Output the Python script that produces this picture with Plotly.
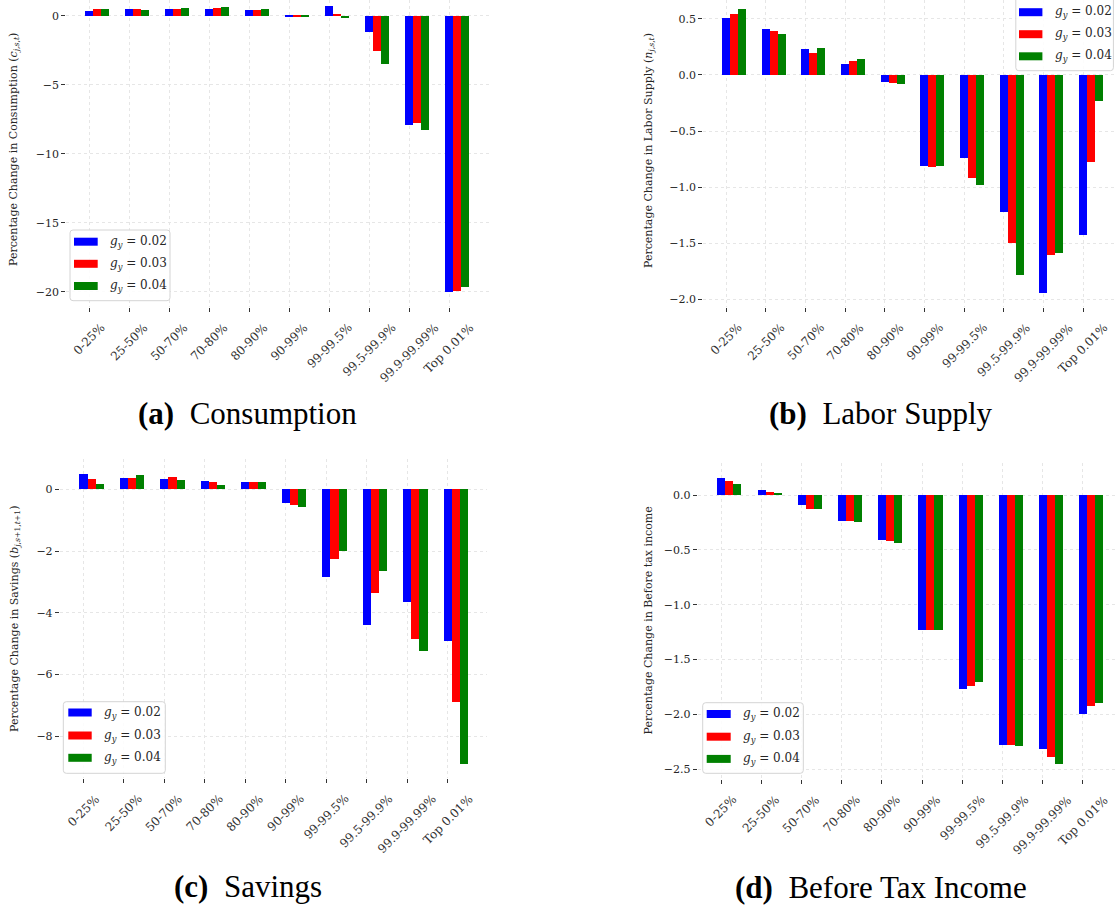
import plotly.graph_objects as go

W, H = 1117, 907

# Income groups on the x axis
groups = ["0-25%", "25-50%", "50-70%", "70-80%", "80-90%", "90-99%",
          "99-99.5%", "99.5-99.9%", "99.9-99.99%", "Top 0.01%"]

# Growth-rate scenarios
growth_rates = ["0.02", "0.03", "0.04"]
bar_colors = ["#0000ff", "#ff0000", "#008000"]

# Percentage change in consumption
consumption_g02 = [0.34, 0.50, 0.50, 0.50, 0.43, -0.10, 0.70, -1.20, -7.90, -20.00]
consumption_g03 = [0.46, 0.50, 0.50, 0.55, 0.43, -0.10, 0.15, -2.55, -7.80, -19.95]
consumption_g04 = [0.50, 0.43, 0.55, 0.63, 0.50, -0.10, -0.15, -3.47, -8.30, -19.65]

# Percentage change in labor supply
labor_g02 = [0.506, 0.408, 0.235, 0.098, -0.060, -0.812, -0.744, -1.220, -1.943, -1.430]
labor_g03 = [0.545, 0.393, 0.196, 0.122, -0.074, -0.821, -0.920, -1.500, -1.604, -0.777]
labor_g04 = [0.586, 0.363, 0.241, 0.143, -0.080, -0.812, -0.979, -1.786, -1.589, -0.229]

# Percentage change in savings
savings_g02 = [0.49, 0.35, 0.31, 0.26, 0.21, -0.45, -2.86, -4.40, -3.68, -4.93]
savings_g03 = [0.31, 0.37, 0.40, 0.21, 0.21, -0.52, -2.27, -3.39, -4.85, -6.92]
savings_g04 = [0.15, 0.45, 0.29, 0.12, 0.21, -0.57, -2.00, -2.67, -5.24, -8.91]

# Percentage change in before-tax income
income_g02 = [0.155, 0.046, -0.094, -0.234, -0.413, -1.230, -1.774, -2.278, -2.318, -1.999]
income_g03 = [0.130, 0.024, -0.128, -0.240, -0.419, -1.230, -1.744, -2.281, -2.388, -1.923]
income_g04 = [0.100, 0.010, -0.128, -0.249, -0.434, -1.230, -1.710, -2.293, -2.457, -1.898]

BAR_W = 0.2
TEXT = "#262626"
GRID = "#e6e6e6"
SERIF = "DejaVu Serif"


def px(x):
    return x / W


def py(y):
    return 1 - y / H


panels = [
    dict(series=[consumption_g02, consumption_g03, consumption_g04],
         ytitle="Percentage Change in Consumption (<i>c</i><sub><i>j</i>,<i>s</i>,<i>t</i></sub>)",
         caption="<b>(a)</b>&nbsp; Consumption", cap_xy=(247, 414),
         xdom=(66.1, 488.5), xrange=(-0.58, 9.98),
         ydom=(0.0, 306.9), yrange=(-21.1, 1.138), dtick=5, fmt="d",
         ytitle_xy=(14, 150),
         legend=dict(box=(70, 230, 170, 300.7), patch=(74, 97.7), text_x=108,
                     rows=(241.7, 263.8, 286.0))),
    dict(series=[labor_g02, labor_g03, labor_g04],
         ytitle="Percentage Change in Labor Supply (<i>n</i><sub><i>j</i>,<i>s</i>,<i>t</i></sub>)",
         caption="<b>(b)</b>&nbsp; Labor Supply", cap_xy=(881, 414),
         xdom=(703.2, 1117.0), xrange=(-0.58, 9.849),
         ydom=(0.0, 306.7), yrange=(-2.067, 0.669), dtick=0.5, fmt=".1f",
         ytitle_xy=(649, 151),
         legend=dict(box=(1015.8, -5, 1113.4, 70.7), patch=(1019, 1042.4), text_x=1052.7,
                     rows=(12.2, 34.2, 56.3))),
    dict(series=[savings_g02, savings_g03, savings_g04],
         ytitle="Percentage Change in Savings (<i>b</i><sub><i>j</i>,<i>s</i>+1,<i>t</i>+1</sub>)",
         caption="<b>(c)</b>&nbsp; Savings", cap_xy=(248, 886),
         xdom=(59.8, 487.3), xrange=(-0.58, 9.98),
         ydom=(459.4, 778.3), yrange=(-9.37, 0.97), dtick=2, fmt="d",
         ytitle_xy=(15, 619),
         legend=dict(box=(63.3, 701.7, 165.3, 773.3), patch=(68.3, 91.7), text_x=101.7,
                     rows=(712.5, 735.5, 757.8))),
    dict(series=[income_g02, income_g03, income_g04],
         ytitle="Percentage Change in Before tax income",
         caption="<b>(d)</b>&nbsp; Before Tax Income", cap_xy=(881, 887),
         xdom=(697.7, 1117.0), xrange=(-0.58, 9.846),
         ydom=(463.1, 779.2), yrange=(-2.591, 0.291), dtick=0.5, fmt=".1f",
         ytitle_xy=(647.5, 621),
         legend=dict(box=(702.7, 702.7, 803.3, 773.3), patch=(706.7, 730.7), text_x=740.7,
                     rows=(714.0, 736.7, 758.9))),
]


def rounded_box(x0, y0, x1, y1, r=3):
    X0, X1 = px(x0), px(x1)
    Yt, Yb = py(y0), py(y1)
    rx, ry = r / W, r / H
    return (f"M {X0 + rx},{Yt} L {X1 - rx},{Yt} Q {X1},{Yt} {X1},{Yt - ry} "
            f"L {X1},{Yb + ry} Q {X1},{Yb} {X1 - rx},{Yb} L {X0 + rx},{Yb} "
            f"Q {X0},{Yb} {X0},{Yb + ry} L {X0},{Yt - ry} Q {X0},{Yt} {X0 + rx},{Yt} Z")


fig = go.Figure()
layout = dict(width=W, height=H, margin=dict(l=0, r=0, t=0, b=0),
              template="none", paper_bgcolor="white", plot_bgcolor="white",
              showlegend=False, barmode="overlay", bargap=0)
shapes, annotations = [], []

for n, p in enumerate(panels, start=1):
    sfx = "" if n == 1 else str(n)
    xa, ya = "x" + sfx, "y" + sfx
    for k, (vals, rate, col) in enumerate(zip(p["series"], growth_rates, bar_colors)):
        fig.add_trace(go.Bar(
            x=[i + k * BAR_W for i in range(len(groups))], y=vals, width=BAR_W,
            marker=dict(color=col, line=dict(width=0)),
            name=f"g_y = {rate}", xaxis=xa, yaxis=ya))

    layout["xaxis" + sfx] = dict(
        domain=[px(p["xdom"][0]), px(p["xdom"][1])], range=list(p["xrange"]),
        anchor=ya, tickmode="array", tickvals=list(range(len(groups))),
        showticklabels=False, ticks="outside", ticklen=4, tickwidth=1, tickcolor="#333333",
        showgrid=True, gridcolor=GRID, griddash="dot", gridwidth=1,
        zeroline=False, showline=False, automargin=False)
    layout["yaxis" + sfx] = dict(
        domain=[py(p["ydom"][1]), py(p["ydom"][0])], range=list(p["yrange"]),
        anchor=xa, tickmode="linear", tick0=0, dtick=p["dtick"], tickformat=p["fmt"],
        ticks="outside", ticklen=4, tickwidth=1, tickcolor="#333333",
        showgrid=True, gridcolor=GRID, griddash="dot", gridwidth=1,
        zeroline=False, showline=False, automargin=False,
        tickfont=dict(family=SERIF, size=11, color=TEXT))

    # rotated category labels, centred under each tick
    for i, g in enumerate(groups):
        annotations.append(dict(
            text=g, xref=xa, yref="paper", x=i, y=py(p["ydom"][1]), yshift=-11,
            xanchor="center", yanchor="top", textangle=-45, showarrow=False,
            font=dict(family=SERIF, size=12, color="#333333")))

    # y-axis title
    annotations.append(dict(
        text=p["ytitle"], xref="paper", yref="paper",
        x=px(p["ytitle_xy"][0]), y=py(p["ytitle_xy"][1]),
        xanchor="center", yanchor="middle", textangle=-90, showarrow=False,
        font=dict(family=SERIF, size=11, color=TEXT)))

    # sub-figure caption
    annotations.append(dict(
        text=p["caption"], xref="paper", yref="paper",
        x=px(p["cap_xy"][0]), y=py(p["cap_xy"][1]),
        xanchor="center", yanchor="middle", showarrow=False,
        font=dict(family="Liberation Serif", size=31, color="#000000")))

    # legend box
    lg = p["legend"]
    shapes.append(dict(type="path", xref="paper", yref="paper",
                       path=rounded_box(*lg["box"]),
                       fillcolor="rgba(255,255,255,0.85)",
                       line=dict(color="#d4d4d4", width=1)))
    for rate, col, yc in zip(growth_rates, bar_colors, lg["rows"]):
        shapes.append(dict(type="rect", xref="paper", yref="paper",
                           x0=px(lg["patch"][0]), x1=px(lg["patch"][1]),
                           y0=py(yc + 4), y1=py(yc - 4),
                           fillcolor=col, line=dict(width=0)))
        annotations.append(dict(
            text=f"<i>g</i><sub><i>y</i></sub> = {rate}", xref="paper", yref="paper",
            x=px(lg["text_x"]), y=py(yc), xanchor="left", yanchor="middle",
            showarrow=False, font=dict(family=SERIF, size=12, color=TEXT)))

layout["shapes"] = shapes
layout["annotations"] = annotations
fig.update_layout(**layout)

fig.write_html("out.html")
